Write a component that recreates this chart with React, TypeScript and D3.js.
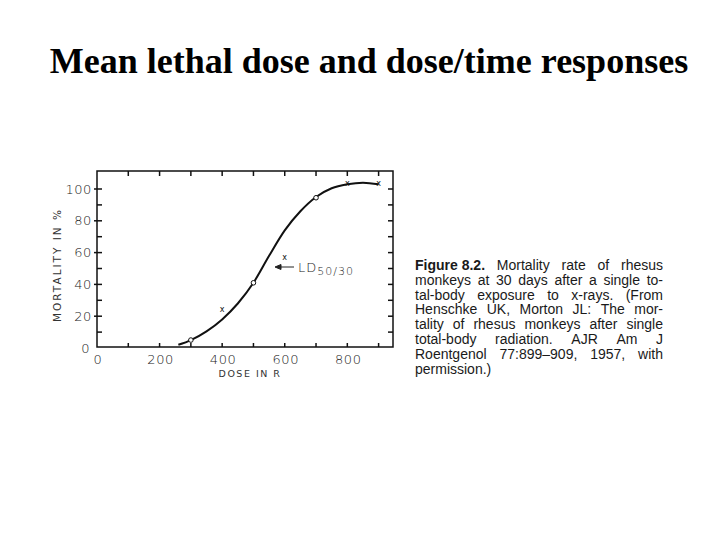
import React from 'react';
import * as d3 from 'd3';

const title = 'Mean lethal dose and dose/time responses';
const doseLabels = [0, 200, 400, 600, 800];
const doseMinor = [100, 200, 300, 400, 500, 600, 700, 800, 900];
const mortLabels = [0, 20, 40, 60, 80, 100];
const mortMinor = [10, 20, 30, 40, 50, 60, 70, 80, 90, 100];
const curveDose = [260, 300, 350, 400, 450, 500, 550, 600, 650, 700, 750, 800, 850, 900];
const curveMort = [2, 5, 10.5, 18, 28, 41, 58, 74, 86, 95, 100.5, 103, 104, 103];
const circleDose = [300, 500, 700];
const circleMort = [5, 41, 94.5];
const crossDose = [400, 600, 800, 900];
const crossMort = [24, 57, 103.5, 103.5];
const captionLines = [
  ['Figure 8.2.', 'Mortality', 'rate', 'of', 'rhesus'],
  ['monkeys', 'at', '30', 'days', 'after', 'a', 'single', 'to-'],
  ['tal-body', 'exposure', 'to', 'x-rays.', '(From'],
  ['Henschke', 'UK,', 'Morton', 'JL:', 'The', 'mor-'],
  ['tality', 'of', 'rhesus', 'monkeys', 'after', 'single'],
  ['total-body', 'radiation.', 'AJR', 'Am', 'J'],
  ['Roentgenol', '77:899–909,', '1957,', 'with'],
  ['permission.)'],
];

const capFont = "'Liberation Sans', Arial, sans-serif";
const capSize = 14;
const axisFont = "'DejaVu Sans', sans-serif";

let ctx: CanvasRenderingContext2D | null = null;
function measure(t: string, bold: boolean) {
  if (!ctx) ctx = document.createElement('canvas').getContext('2d');
  if (!ctx) return t.length * 6;
  ctx.font = `${bold ? 'bold ' : ''}${capSize}px ${capFont}`;
  return ctx.measureText(t).width;
}

function Caption({ x, y, w, lh }: { x: number; y: number; w: number; lh: number }) {
  return (
    <g fontFamily={capFont} fontSize={capSize} fill="#1a1a1a">
      {captionLines.map((words, li) => {
        const widths = words.map((wd, i) => measure(wd, li === 0 && i === 0));
        const sum = d3.sum(widths);
        const last = li === captionLines.length - 1;
        const gap = last || words.length < 2 ? measure(' ', false) : (w - sum) / (words.length - 1);
        let cx = x;
        return words.map((wd, i) => {
          const px = cx;
          cx += widths[i] + gap;
          return (
            <text key={li + '-' + i} x={px} y={y + li * lh} fontWeight={li === 0 && i === 0 ? 'bold' : 'normal'}>
              {wd}
            </text>
          );
        });
      })}
    </g>
  );
}

export default function App() {
  const left = 97, right = 393, top = 171, bottom = 347;
  const xs = d3.scaleLinear().domain([0, 946]).range([left, right]);
  const ys = d3.scaleLinear().domain([0, 100]).range([348, 189]);
  const pts = curveDose.map((d, i) => [xs(d), ys(curveMort[i])] as [number, number]);
  const line = d3.line().curve(d3.curveMonotoneX)(pts) || '';
  const tk = 5;
  return (
    <svg width={720} height={540} style={{ position: 'absolute', left: 0, top: 0, background: '#fff' }}>
      <rect width={720} height={540} fill="#fff" />
      <text x={369} y={73} textAnchor="middle" fontFamily="'Liberation Serif', 'Times New Roman', serif" fontWeight="bold" fontSize={36} fill="#000">
        {title}
      </text>
      <g stroke="#111" strokeWidth={1.5} fill="none">
        <rect x={left} y={top} width={right - left} height={bottom - top} />
        {doseMinor.map((d) => (
          <line key={'t' + d} x1={xs(d)} x2={xs(d)} y1={top} y2={top + tk} />
        ))}
        {doseMinor.map((d) => (
          <line key={'b' + d} x1={xs(d)} x2={xs(d)} y1={bottom} y2={bottom - 4} />
        ))}
        {mortMinor.map((m) => (
          <line key={'r' + m} x1={right} x2={right - tk} y1={ys(m)} y2={ys(m)} />
        ))}
        {mortMinor.map((m) => (
          <line key={'l' + m} x1={left - (m % 20 === 0 ? 3 : 0)} x2={left + tk} y1={ys(m)} y2={ys(m)} />
        ))}
      </g>
      <g fontFamily={axisFont} fontWeight={300} fontSize={13} fill="#222" letterSpacing={0.6}>
        {mortLabels.map((m) => (
          <text key={'ml' + m} x={m === 0 ? left - 7 : left - 5} y={ys(m)} dy="0.36em" textAnchor="end">
            {m}
          </text>
        ))}
        {doseLabels.map((d) => (
          <text key={'dl' + d} x={xs(d) + 1} y={bottom + 17} textAnchor="middle">
            {d}
          </text>
        ))}
      </g>
      <text x={250} y={377} textAnchor="middle" fontFamily={axisFont} fontSize={9.5} fill="#333" letterSpacing={1.5}>
        DOSE IN R
      </text>
      <text transform={`translate(61,265) rotate(-90)`} textAnchor="middle" fontFamily={axisFont} fontSize={10.5} fill="#333" letterSpacing={2}>
        MORTALITY IN %
      </text>
      <path d={line} fill="none" stroke="#111" strokeWidth={2} />
      {circleDose.map((d, i) => (
        <circle key={'c' + d} cx={xs(d)} cy={ys(circleMort[i])} r={2.3} fill="#fff" stroke="#111" strokeWidth={1} />
      ))}
      {crossDose.map((d, i) => (
        <text key={'x' + d} x={xs(d)} y={ys(crossMort[i])} dy="0.3em" textAnchor="middle" fontFamily={axisFont} fontSize={8} fill="#111">
          x
        </text>
      ))}
      <g stroke="#222" strokeWidth={1} fill="#222">
        <line x1={277} x2={294} y1={267} y2={267} />
        <path d="M275,267 L281,264.5 L281,269.5 Z" />
      </g>
      <text x={298} y={272} fontFamily={axisFont} fontWeight={300} fontSize={13} fill="#222" letterSpacing={1}>
        LD<tspan fontSize={11} dy={3}>50/30</tspan>
      </text>
      <Caption x={415} y={270} w={248} lh={14.8} />
    </svg>
  );
}
